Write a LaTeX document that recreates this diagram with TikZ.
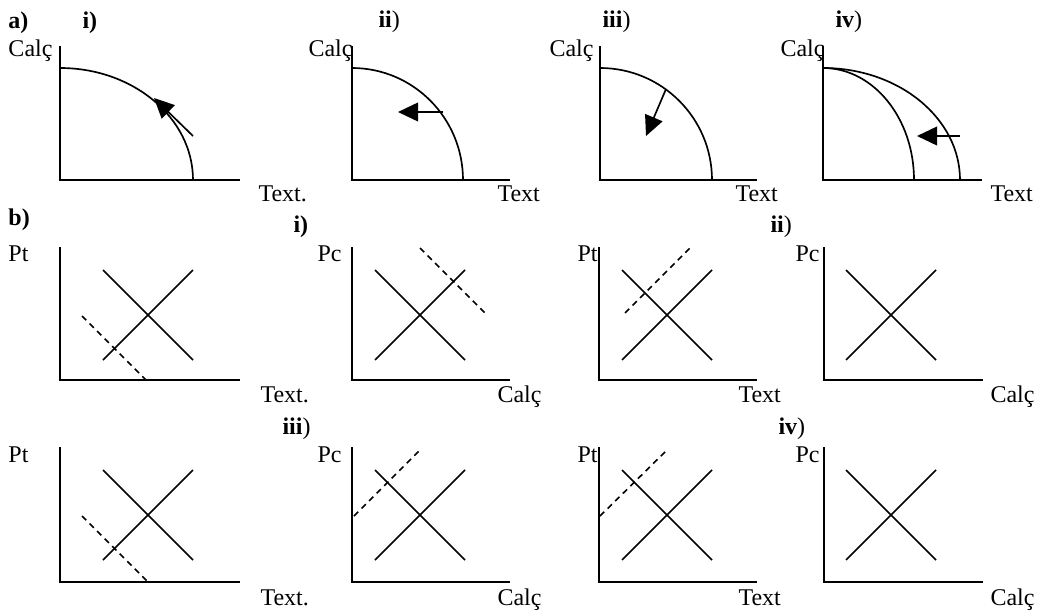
\documentclass[tikz,border=0pt]{standalone}
\usepackage{fontspec}
\setmainfont{Liberation Serif}
\usetikzlibrary{arrows.meta}

\tikzset{every picture/.style={line width=0.75pt}}
\tikzset{
axisline/.style={line width=1.6pt},
frontier/.style={line width=1.25pt},
curveline/.style={line width=1.2pt},
shiftline/.style={line width=1.2pt, dash pattern=on 4.5pt off 3.5pt},
bigarrow/.style={line width=1.25pt, -{Triangle[length=15pt,width=14pt]}},
lbl/.style={anchor=base west, inner sep=0pt, font=\fontsize{18}{21}\selectfont}}

\begin{document}
\begin{tikzpicture}[x=0.75pt,y=0.75pt,yscale=-1,xscale=1]
\useasboundingbox (0,0) rectangle (1037,610);

%%%%% Row a
%Shape: Axes a-i
\draw [axisline] (60,46) -- (60,180) -- (240,180) ;
%Curve a-i
\draw [frontier] (60,68) arc [start angle=-90, end angle=0, x radius=133, y radius=112] ;
%Straight Lines a-i
\draw [bigarrow] (193,136) -- (154,98) ;

%Shape: Axes a-ii
\draw [axisline] (352,46) -- (352,180) -- (510,180) ;
%Curve a-ii
\draw [frontier] (352,68) arc [start angle=-90, end angle=0, x radius=111, y radius=112] ;
%Straight Lines a-ii
\draw [bigarrow] (443,112) -- (398,112) ;

%Shape: Axes a-iii
\draw [axisline] (600,46) -- (600,180) -- (757,180) ;
%Curve a-iii
\draw [frontier] (600,68) arc [start angle=-90, end angle=0, x radius=112, y radius=112] ;
%Straight Lines a-iii
\draw [bigarrow] (666,89) -- (646,136) ;

%Shape: Axes a-iv
\draw [axisline] (823,46) -- (823,180) -- (982,180) ;
%Curve a-iv
\draw [frontier] (823,68) arc [start angle=-90, end angle=0, x radius=91, y radius=112] ;
\draw [frontier] (823,68) arc [start angle=-90, end angle=0, x radius=137, y radius=112] ;
%Straight Lines a-iv
\draw [bigarrow] (960,136) -- (917,136) ;

%%%%% Row b, top
%Shape: Axes
\draw [axisline] (60,247) -- (60,380) -- (240,380) ;
\draw [curveline] (103,270) -- (193,360) ;
\draw [curveline] (103,360) -- (193,270) ;
\draw [shiftline] (82,316) -- (146,380) ;

\draw [axisline] (352,247) -- (352,380) -- (510,380) ;
\draw [curveline] (375,270) -- (465,360) ;
\draw [curveline] (375,360) -- (465,270) ;
\draw [shiftline] (420,248) -- (486,314) ;

\draw [axisline] (599,247) -- (599,380) -- (757,380) ;
\draw [curveline] (622,270) -- (712,360) ;
\draw [curveline] (622,360) -- (712,270) ;
\draw [shiftline] (625,313) -- (690,248) ;

\draw [axisline] (824,247) -- (824,380) -- (983,380) ;
\draw [curveline] (846,270) -- (936,360) ;
\draw [curveline] (846,360) -- (936,270) ;

%%%%% Row b, bottom
\draw [axisline] (60,447) -- (60,582) -- (240,582) ;
\draw [curveline] (103,470) -- (193,560) ;
\draw [curveline] (103,560) -- (193,470) ;
\draw [shiftline] (82,516) -- (148,582) ;

\draw [axisline] (352,447) -- (352,582) -- (510,582) ;
\draw [curveline] (375,470) -- (465,560) ;
\draw [curveline] (375,560) -- (465,470) ;
\draw [shiftline] (354,516) -- (420,450) ;

\draw [axisline] (599,447) -- (599,582) -- (757,582) ;
\draw [curveline] (622,470) -- (712,560) ;
\draw [curveline] (622,560) -- (712,470) ;
\draw [shiftline] (600,516) -- (667,450) ;

\draw [axisline] (824,447) -- (824,582) -- (983,582) ;
\draw [curveline] (846,470) -- (936,560) ;
\draw [curveline] (846,560) -- (936,470) ;

% Text Node
\draw (8,29) node [lbl] (labA) {\textbf{a)}};
% Text Node
\draw (82,29) node [lbl] (labAi) {\textbf{i)}};
% Text Node
\draw (378,28) node [lbl] (labAii) {\textbf{ii})};
% Text Node
\draw (602,28) node [lbl] (labAiii) {\textbf{iii})};
% Text Node
\draw (835,28) node [lbl] (labAiv) {\textbf{iv})};
% Text Node
\draw (8,57) node [lbl] (yAi) {Calç};
\draw (308,57) node [lbl] (yAii) {Calç};
\draw (549,57) node [lbl] (yAiii) {Calç};
\draw (780,57) node [lbl] (yAiv) {Calç};
% Text Node
\draw (258,201) node [lbl] (xAi) {Text.};
\draw (497,201) node [lbl] (xAii) {Text};
\draw (735,201) node [lbl] (xAiii) {Text};
\draw (990,201) node [lbl] (xAiv) {Text};

% Text Node
\draw (8,225) node [lbl] (labB) {\textbf{b)}};
% Text Node
\draw (293,232) node [lbl] (labBi) {\textbf{i)}};
% Text Node
\draw (770,232) node [lbl] (labBii) {\textbf{ii})};
% Text Node
\draw (282,434) node [lbl] (labBiii) {\textbf{iii})};
% Text Node
\draw (778,434) node [lbl] (labBiv) {\textbf{iv})};
% Text Node
\draw (8,261) node [lbl] (yBa) {Pt};
\draw (317,261) node [lbl] (yBb) {Pc};
\draw (577,261) node [lbl] (yBc) {Pt};
\draw (795,261) node [lbl] (yBd) {Pc};
\draw (8,462) node [lbl] (yBe) {Pt};
\draw (317,462) node [lbl] (yBf) {Pc};
\draw (577,462) node [lbl] (yBg) {Pt};
\draw (795,462) node [lbl] (yBh) {Pc};
% Text Node
\draw (260,402) node [lbl] (xBa) {Text.};
\draw (497,402) node [lbl] (xBb) {Calç};
\draw (738,402) node [lbl] (xBc) {Text};
\draw (990,402) node [lbl] (xBd) {Calç};
\draw (260,605) node [lbl] (xBe) {Text.};
\draw (497,605) node [lbl] (xBf) {Calç};
\draw (738,605) node [lbl] (xBg) {Text};
\draw (990,605) node [lbl] (xBh) {Calç};

\end{tikzpicture}
\end{document}
